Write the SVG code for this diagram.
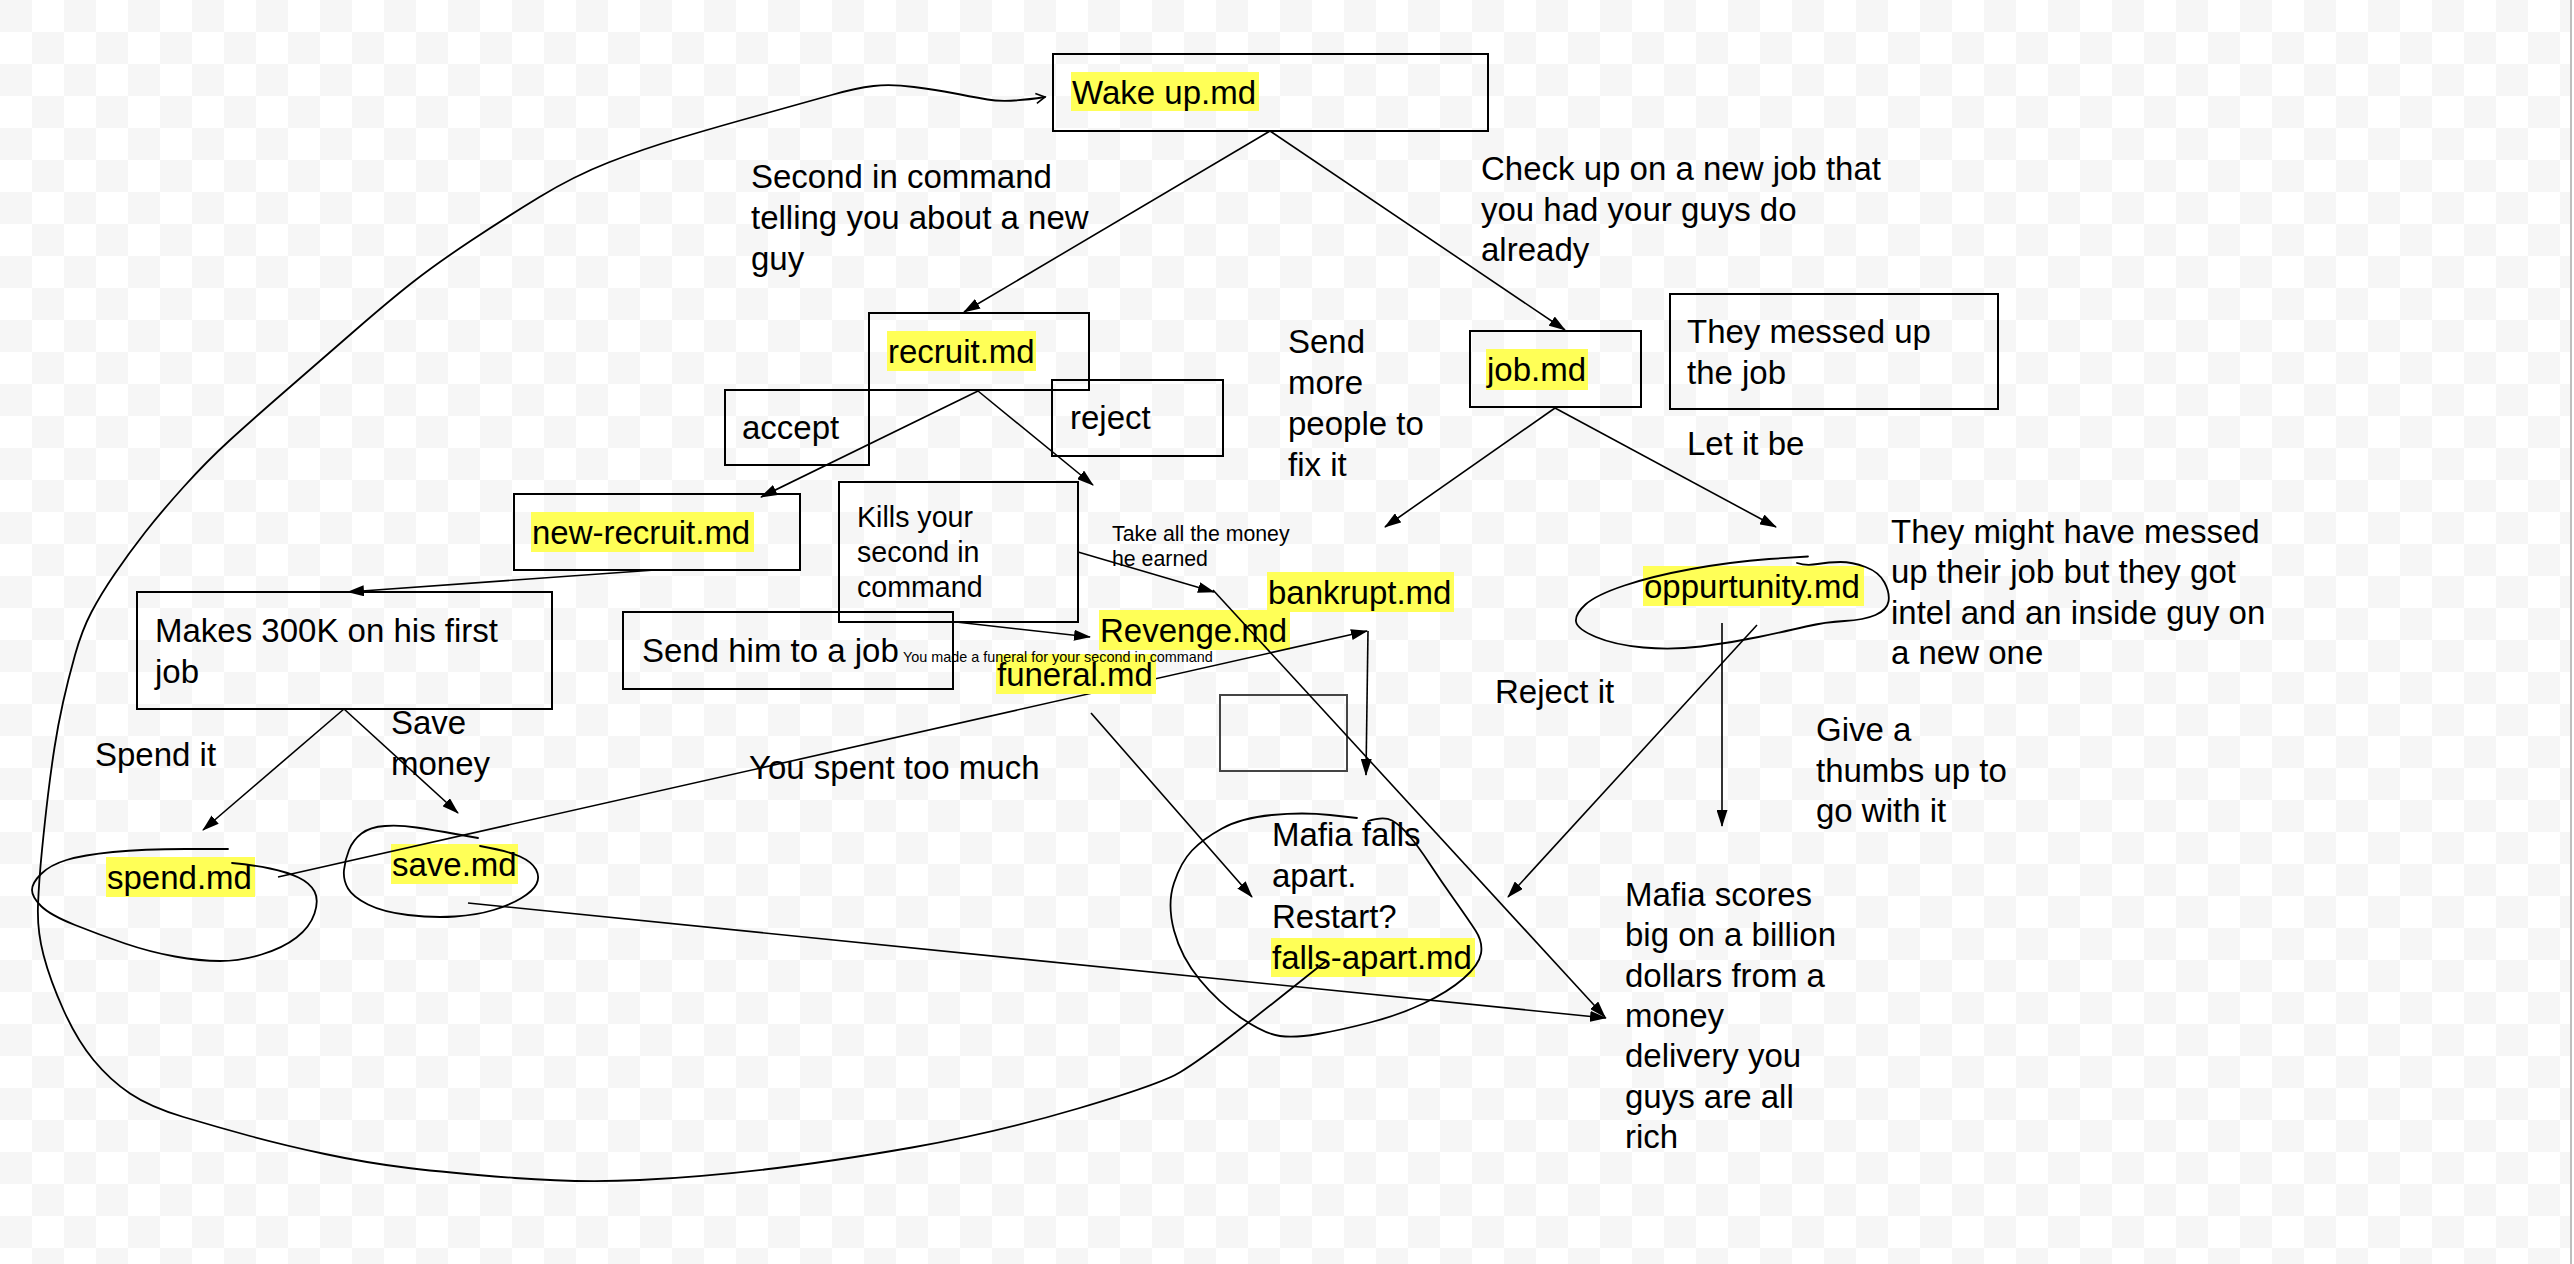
<svg xmlns="http://www.w3.org/2000/svg" width="2574" height="1264" viewBox="0 0 2574 1264">
<defs>
<pattern id="checker" width="64" height="64" patternUnits="userSpaceOnUse">
<rect width="64" height="64" fill="#ffffff"/>
<rect width="32" height="32" fill="#f6f6f6"/>
<rect x="32" y="32" width="32" height="32" fill="#f6f6f6"/>
</pattern>
<marker id="arr" markerUnits="userSpaceOnUse" markerWidth="17" markerHeight="11" refX="16" refY="5.5" orient="auto">
<path d="M0,0 L17,5.5 L0,11 Z" fill="#000"/>
</marker>
<marker id="open" markerUnits="userSpaceOnUse" markerWidth="12" markerHeight="12" refX="10" refY="6" orient="auto">
<path d="M1,1 L10,6 L1,11" fill="none" stroke="#000" stroke-width="1.6"/>
</marker>
</defs>
<style>
.box{fill:none;stroke:#000;stroke-width:2}
.t{font-family:"Liberation Sans",Arial,sans-serif;font-size:33px;fill:#000}
.hl{fill:#ffff57}
.c{fill:none;stroke:#000;stroke-width:1.6}
.a{marker-end:url(#arr)}
.hand{fill:none;stroke:#000;stroke-width:1.8;stroke-linecap:round;stroke-linejoin:round}
</style>
<rect width="2574" height="1264" fill="url(#checker)"/>
<rect x="2570" y="0" width="2" height="1264" fill="#bdbdbd"/>
<rect x="2572" y="0" width="2" height="1264" fill="#ffffff"/>

<g id="wake-up">
<rect class="box" x="1053" y="54" width="435" height="77"/>
<rect class="hl" x="1071" y="72" width="188" height="39"/>
<text class="t" x="1072" y="104">Wake up.md</text>
</g>

<g id="label-second-in-command">
<text class="t" x="751" y="188">Second in command<tspan x="751" dy="41">telling you about a new</tspan><tspan x="751" dy="41">guy</tspan></text>
</g>

<g id="label-check-up">
<text class="t" x="1481" y="180">Check up on a new job that<tspan x="1481" dy="40.5">you had your guys do</tspan><tspan x="1481" dy="40.5">already</tspan></text>
</g>

<g id="recruit">
<rect class="box" x="869" y="313" width="220" height="77"/>
<rect class="hl" x="887" y="331" width="149" height="40"/>
<text class="t" x="888" y="363">recruit.md</text>
</g>

<g id="accept">
<rect class="box" x="725" y="390" width="144" height="75"/>
<text class="t" x="742" y="439">accept</text>
</g>

<g id="reject">
<rect class="box" x="1052" y="380" width="171" height="76"/>
<text class="t" x="1070" y="429">reject</text>
</g>

<g id="new-recruit">
<rect class="box" x="514" y="494" width="286" height="76"/>
<rect class="hl" x="531" y="512" width="223" height="40"/>
<text class="t" x="532" y="544">new-recruit.md</text>
</g>

<g id="kills">
<rect class="box" x="839" y="482" width="239" height="140"/>
<text class="t" x="857" y="527" style="font-size:28.6px">Kills your<tspan x="857" dy="35">second in</tspan><tspan x="857" dy="35">command</tspan></text>
</g>

<g id="label-take-money">
<text class="t" x="1112" y="541" style="font-size:21.3px">Take all the money<tspan x="1112" dy="25">he earned</tspan></text>
</g>

<g id="makes-300k">
<rect class="box" x="137" y="592" width="415" height="117"/>
<text class="t" x="155" y="642">Makes 300K on his first<tspan x="155" dy="41">job</tspan></text>
</g>

<g id="send-him">
<rect class="box" x="623" y="612" width="330" height="77"/>
<text class="t" x="642" y="662">Send him to a job</text>
</g>

<g id="revenge">
<rect class="hl" x="1099" y="610" width="191" height="40"/>
<text class="t" x="1100" y="642">Revenge.md</text>
</g>

<g id="bankrupt">
<rect class="hl" x="1267" y="572" width="187" height="40"/>
<text class="t" x="1268" y="604">bankrupt.md</text>
</g>

<g id="empty-box">
<rect x="1220" y="695" width="127" height="76" fill="none" stroke="#444" stroke-width="2"/>
</g>

<g id="job">
<rect class="box" x="1470" y="331" width="171" height="76"/>
<rect class="hl" x="1486" y="349" width="102" height="41"/>
<text class="t" x="1487" y="381">job.md</text>
</g>

<g id="messed-up">
<rect class="box" x="1670" y="294" width="328" height="115"/>
<text class="t" x="1687" y="343">They messed up<tspan x="1687" dy="41">the job</tspan></text>
</g>

<g id="label-send-more">
<text class="t" x="1288" y="353">Send<tspan x="1288" dy="41">more</tspan><tspan x="1288" dy="41">people to</tspan><tspan x="1288" dy="41">fix it</tspan></text>
</g>

<g id="label-let-it-be">
<text class="t" x="1687" y="455">Let it be</text>
</g>

<g id="label-might-have">
<text class="t" x="1891" y="543">They might have messed<tspan x="1891" dy="40.3">up their job but they got</tspan><tspan x="1891" dy="40.3">intel and an inside guy on</tspan><tspan x="1891" dy="40.3">a new one</tspan></text>
</g>

<g id="oppurtunity">
<rect class="hl" x="1643" y="566" width="221" height="40"/>
<text class="t" x="1644" y="598">oppurtunity.md</text>
<path class="hand" d="M1808,556.5 L1769,559 Q1730,562 1691.5,569 Q1653,576 1624.5,585.5 Q1596,595 1585.5,604.5 Q1575,614 1576,621.5 Q1577,629 1596,637 Q1615,645 1643.5,647.5 Q1672,650 1701,646.5 Q1730,643 1758.5,637 Q1787,631 1806,626.5 Q1825,622 1844.5,621 Q1864,620 1875.5,615 Q1887,610 1888.5,601.5 Q1890,593 1884.5,582.5 Q1879,572 1865.5,567 Q1852,562 1840.5,562 Q1829,562 1817.5,564 Q1806,566 1797,563"/>
</g>

<g id="label-reject-it">
<text class="t" x="1495" y="703">Reject it</text>
</g>

<g id="label-give-thumbs">
<text class="t" x="1816" y="741">Give a<tspan x="1816" dy="40.5">thumbs up to</tspan><tspan x="1816" dy="40.5">go with it</tspan></text>
</g>

<g id="mafia-scores">
<text class="t" x="1625" y="906">Mafia scores<tspan x="1625" dy="40.3">big on a billion</tspan><tspan x="1625" dy="40.3">dollars from a</tspan><tspan x="1625" dy="40.3">money</tspan><tspan x="1625" dy="40.3">delivery you</tspan><tspan x="1625" dy="40.3">guys are all</tspan><tspan x="1625" dy="40.3">rich</tspan></text>
</g>

<g id="falls-apart">
<rect class="hl" x="1271" y="938" width="204" height="39"/>
<text class="t" x="1272" y="846">Mafia falls<tspan x="1272" dy="41">apart.</tspan><tspan x="1272" dy="41">Restart?</tspan><tspan x="1272" dy="41">falls-apart.md</tspan></text>
<path class="hand" d="M1357,818 L1330,815 Q1303,812 1272,815 Q1241,818 1222,828.5 Q1203,839 1192,850.5 Q1181,862 1174,883 Q1167,904 1174,930.5 Q1181,957 1200,980 Q1219,1003 1242,1018.5 Q1265,1034 1280,1036 Q1295,1038 1318,1034 Q1341,1030 1370,1022.5 Q1399,1015 1423.5,1003.5 Q1448,992 1463.5,978.5 Q1479,965 1481,953.5 Q1483,942 1475.5,930.5 Q1468,919 1454.5,900 Q1441,881 1429.5,863.5 Q1418,846 1409,835.5 Q1400,825 1392,820.5 Q1384,816 1368,821"/>
</g>

<g id="label-spend-it">
<text class="t" x="95" y="766">Spend it</text>
</g>

<g id="label-save-money">
<text class="t" x="391" y="734">Save<tspan x="391" dy="41">money</tspan></text>
</g>

<g id="label-spent-too-much">
<text class="t" x="749" y="779">You spent too much</text>
</g>

<g id="spend">
<rect class="hl" x="106" y="857" width="149" height="40"/>
<text class="t" x="107" y="889">spend.md</text>
<path class="hand" d="M228,849 L185.5,849 Q143,849 113,852 Q83,855 66.5,860 Q50,865 41,874 Q32,883 32,890 Q32,897 41,906 Q50,915 75,925 Q100,935 125,943.5 Q150,952 175,956.5 Q200,961 220,961 Q240,961 261.5,954.5 Q283,948 296.5,937.5 Q310,927 314.5,913.5 Q319,900 314.5,891.5 Q310,883 298.5,877.5 Q287,872 270,868.5 Q253,865 232,863"/>
</g>

<g id="save">
<rect class="hl" x="391" y="844" width="127" height="40"/>
<text class="t" x="392" y="876">save.md</text>
<path class="hand" d="M478,838 L455.5,834 Q433,830 416.5,827.5 Q400,825 385,826 Q370,827 361.5,833.5 Q353,840 349,850 Q345,860 344,870 Q343,880 348,888.5 Q353,897 368,904.5 Q383,912 408,915 Q433,918 455,916.5 Q477,915 493.5,910 Q510,905 521.5,898 Q533,891 536.5,884 Q540,877 536,869.5 Q532,862 520,856.5 Q508,851 480,846"/>
</g>

<g id="connectors">
<line class="c a" x1="1270" y1="131" x2="964" y2="312"/>
<line class="c a" x1="1270" y1="131" x2="1565" y2="330"/>
<line class="c a" x1="978" y1="391" x2="761" y2="497"/>
<line class="c a" x1="978" y1="391" x2="1093" y2="485"/>
<line class="c a" x1="655" y1="570" x2="348" y2="592"/>
<line class="c a" x1="1078" y1="552" x2="1214" y2="592"/>
<line class="c a" x1="1213" y1="590" x2="1605" y2="1017"/>
<line class="c a" x1="956" y1="622" x2="1090" y2="637"/>
<line class="c a" x1="278" y1="877" x2="1367" y2="631"/>
<line class="c a" x1="1368" y1="631" x2="1366" y2="775"/>
<line class="c a" x1="1091" y1="713" x2="1252" y2="897"/>
<line class="c a" x1="1555" y1="408" x2="1385" y2="527"/>
<line class="c a" x1="1555" y1="408" x2="1776" y2="527"/>
<line class="c a" x1="1722" y1="623" x2="1722" y2="826"/>
<line class="c a" x1="1757" y1="625" x2="1508" y2="897"/>
<line class="c a" x1="468" y1="903" x2="1606" y2="1018"/>
<line class="c a" x1="344" y1="709" x2="203" y2="830"/>
<line class="c a" x1="344" y1="709" x2="458" y2="813"/>
<path class="hand" marker-end="url(#open)" d="M1326,961 L1294,986.5 Q1262,1012 1231,1036 Q1200,1060 1180.5,1072 Q1161,1084 1078,1108.5 Q995,1133 912,1147.5 Q829,1162 764.5,1169.5 Q700,1177 640,1180 Q580,1183 515,1178 Q450,1173 408.5,1168 Q367,1163 325,1154 Q283,1145 250,1136 Q217,1127 183.5,1117 Q150,1107 130,1093.5 Q110,1080 93.5,1060 Q77,1040 63.5,1010 Q50,980 43.5,955 Q37,930 38,905 Q39,880 42,850 Q45,820 48,795 Q51,770 54.5,747.5 Q58,725 63,702.5 Q68,680 75,655 Q82,630 91.5,612 Q101,594 115,573.5 Q129,553 145,532.5 Q161,512 184,486.5 Q207,461 229.5,440.5 Q252,420 286.5,390 Q321,360 355.5,330 Q390,300 413,282 Q436,264 470.5,241 Q505,218 539.5,197 Q574,176 608.5,162.5 Q643,149 681.5,137.5 Q720,126 763.5,114 Q807,102 831.5,95 Q856,88 873.5,86 Q891,84 914,87 Q937,90 952.5,93 Q968,96 987.5,99.5 Q1007,103 1045,97"/>
</g>

<g id="funeral">
<rect class="hl" x="996" y="654" width="160" height="40"/>
<text class="t" x="997" y="686">funeral.md</text>
</g>

<g id="label-funeral-note">
<text class="t" x="903" y="662" style="font-size:14.4px">You made a funeral for your second in command</text>
</g>
</svg>
